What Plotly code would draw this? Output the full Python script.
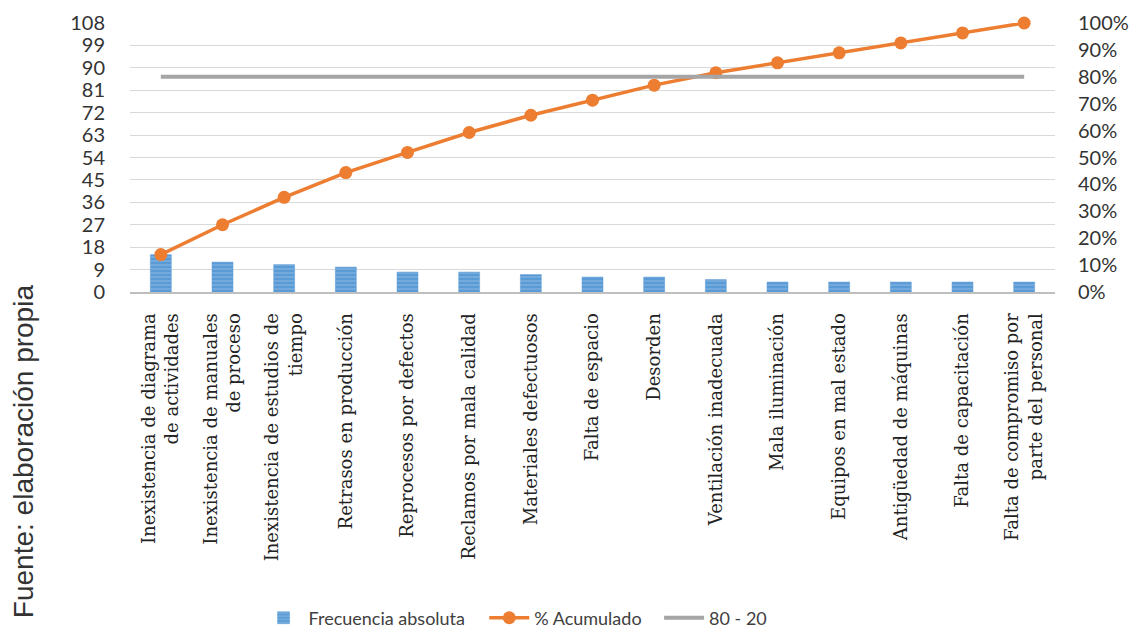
import plotly.graph_objects as go

categories = [
    "Inexistencia de diagrama<br>de actividades",
    "Inexistencia de manuales<br>de proceso",
    "Inexistencia de estudios de<br>tiempo",
    "Retrasos en producción",
    "Reprocesos por defectos",
    "Reclamos por mala calidad",
    "Materiales defectuosos",
    "Falta de espacio",
    "Desorden",
    "Ventilación inadecuada",
    "Mala iluminación",
    "Equipos en mal estado",
    "Antigüedad de máquinas",
    "Falta de capacitación",
    "Falta de compromiso por<br>parte del personal",
]
frecuencia = [15, 12, 11, 10, 8, 8, 7, 6, 6, 5, 4, 4, 4, 4, 4]
acumulado = [0.139, 0.25, 0.352, 0.444, 0.519, 0.593, 0.657, 0.713, 0.769,
             0.815, 0.852, 0.889, 0.926, 0.963, 1.0]
linea_80_20 = [0.8] * 15
y_left_ticks = [0, 9, 18, 27, 36, 45, 54, 63, 72, 81, 90, 99, 108]
y_right_ticks = [0, .1, .2, .3, .4, .5, .6, .7, .8, .9, 1.0]

fig = go.Figure()
fig.add_trace(go.Bar(
    x=categories, y=frecuencia, name="Frecuencia absoluta",
    width=0.34, legend="legend", showlegend=True,
    marker=dict(color="#5B9BD5",
                line=dict(color="#5B9BD5", width=0.5),
                pattern=dict(shape="-", bgcolor="#5B9BD5", fgcolor="#A9CBEB",
                             size=4, solidity=0.3)),
))
fig.add_trace(go.Scatter(
    x=categories, y=acumulado, name="% Acumulado", yaxis="y2",
    mode="lines+markers", cliponaxis=False, legend="legend2", showlegend=True,
    line=dict(color="#ED7D31", width=3.5),
    marker=dict(color="#ED7D31", size=13),
))
fig.add_trace(go.Scatter(
    x=categories, y=linea_80_20, name="80 - 20", yaxis="y2",
    mode="lines", legend="legend3", showlegend=True,
    line=dict(color="#A5A5A5", width=4),
))

tickfont = dict(family="Lato", size=20, color="#333333")
legend_font = dict(family="Lato", size=18, color="#404040")
fig.update_layout(
    width=1139, height=631,
    showlegend=True,
    margin=dict(l=130, r=84, t=23, b=339, autoexpand=False),
    paper_bgcolor="white", plot_bgcolor="white",
    xaxis=dict(
        type="category", tickangle=-90, showgrid=False,
        range=[-0.5, 14.5], automargin=False,
        tickfont=dict(family="DejaVu Serif", size=18, color="#222222"),
        showline=True, linecolor="#BFBFBF", linewidth=2,
        ticks="", ticklabelstandoff=12,
    ),
    yaxis=dict(
        range=[0, 108], tickvals=y_left_ticks, automargin=False,
        showgrid=True, gridcolor="#D9D9D9", gridwidth=1,
        zeroline=False, showline=False,
        tickfont=tickfont, ticks="", ticklabelstandoff=24,
    ),
    yaxis2=dict(
        range=[0, 1], tickvals=y_right_ticks, tickformat=".0%",
        overlaying="y", side="right", showgrid=False, zeroline=False,
        automargin=False,
        tickfont=tickfont, ticks="", ticklabelstandoff=22,
    ),
    legend=dict(
        orientation="h", x=0.139, xanchor="left", y=-1.212, yanchor="middle",
        font=legend_font, itemwidth=40, visible=True,
    ),
    legend2=dict(
        orientation="h", x=0.383, xanchor="left", y=-1.212, yanchor="middle",
        font=legend_font, itemwidth=40,
    ),
    legend3=dict(
        orientation="h", x=0.572, xanchor="left", y=-1.212, yanchor="middle",
        font=legend_font, itemwidth=40,
    ),
    annotations=[dict(
        text="Fuente: elaboración propia", xref="paper", yref="paper",
        x=-0.115, y=-0.593, xanchor="center", yanchor="middle",
        textangle=-90, showarrow=False,
        font=dict(family="Liberation Sans", size=28, color="#333333"),
    )],
)

fig.write_html("out.html")
